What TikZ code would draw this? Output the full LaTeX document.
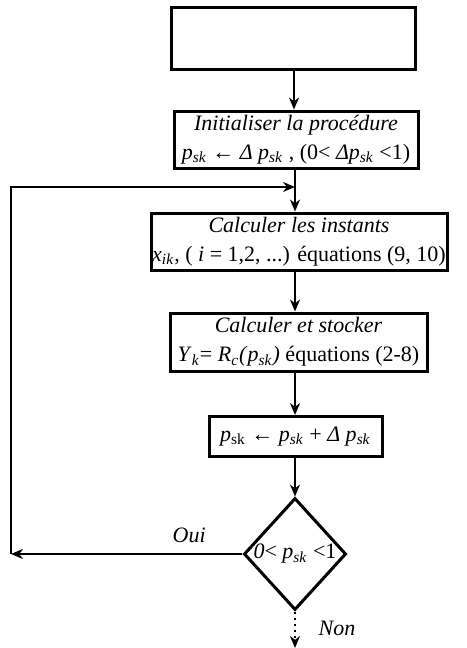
\documentclass[tikz,border=0pt]{standalone}
\usepackage{fontspec}
\setmainfont{Liberation Serif}
\usetikzlibrary{shapes.geometric, arrows.meta}
\newcommand{\psk}{\textit{p}\textsubscript{\textit{sk}}}

\begin{document}
\begin{tikzpicture}[x=0.5pt, y=-0.5pt, line width=1pt, >={Stealth[length=6pt, width=5pt]},
                        main/.style = {draw, line width=1.5pt, align=center, inner sep=0pt,
                        font=\fontsize{11}{14.5}\selectfont},
                        cond/.style = {main, diamond, aspect=1}]
        \useasboundingbox (0,0) rectangle (466,648);

        \node[main, minimum width=122pt, minimum height=31pt] (start) at (293,38) {};

        \node[main, minimum width=122pt, minimum height=28.5pt] (init) at (296,139.5)
            {\textit{Initialiser la procédure}\\ \psk{} ← \textit{Δ p}\textsubscript{\textit{sk}} , (0< \textit{Δp}\textsubscript{\textit{sk}} <1)};

        \node[main, minimum width=148pt, minimum height=28.5pt] (instants) at (299,241.5)
            {\textit{Calculer les instants}\\ \textit{x}\textsubscript{\textit{ik}}, ( \textit{i} = 1,2, ...) équations (9, 10)};

        \node[main, minimum width=128.5pt, minimum height=29pt] (stocker) at (298.5,342)
            {\textit{Calculer et stocker}\\ \textit{Y}\textsubscript{\textit{k}}= \textit{R}\textsubscript{\textit{c}}\textit{(}\psk\textit{)} équations (2-8)};

        \node[main, minimum width=86.5pt, minimum height=20pt] (update) at (295.5,436.5)
            {\textit{p}\textsubscript{sk} ← \psk{} + \textit{Δ p}\textsubscript{\textit{sk}}};

        \node[cond, minimum width=51pt, minimum height=56pt] (test) at (295,554)
            {\textit{0}< \psk{} <1};

        \coordinate (join) at (295,187);
        \coordinate (back) at (11,554);
        \coordinate (stop) at (295,648);

        \draw[->] (start.south -| 294,0) -- (init.north -| 294,0);
        \draw (init.south -| 295,0) -- (join);
        \draw[->] (join) -- (join |- instants.north);
        \draw[->] (join |- instants.south) -- (join |- stocker.north);
        \draw[->] (join |- stocker.south) -- (join |- update.north);
        \draw[->] (join |- update.south) -- (test.north);
        \draw[->] (test.west) -- node[pos=0.23, above=2pt, font=\itshape\fontsize{11}{13}\selectfont] {Oui} (back);
        \draw[->] (back) |- (join);
        \draw[->, dotted] (test.south) -- node[pos=0.45, right=8pt, font=\itshape\fontsize{11}{13}\selectfont] {Non} (stop);
    \end{tikzpicture}
\end{document}
